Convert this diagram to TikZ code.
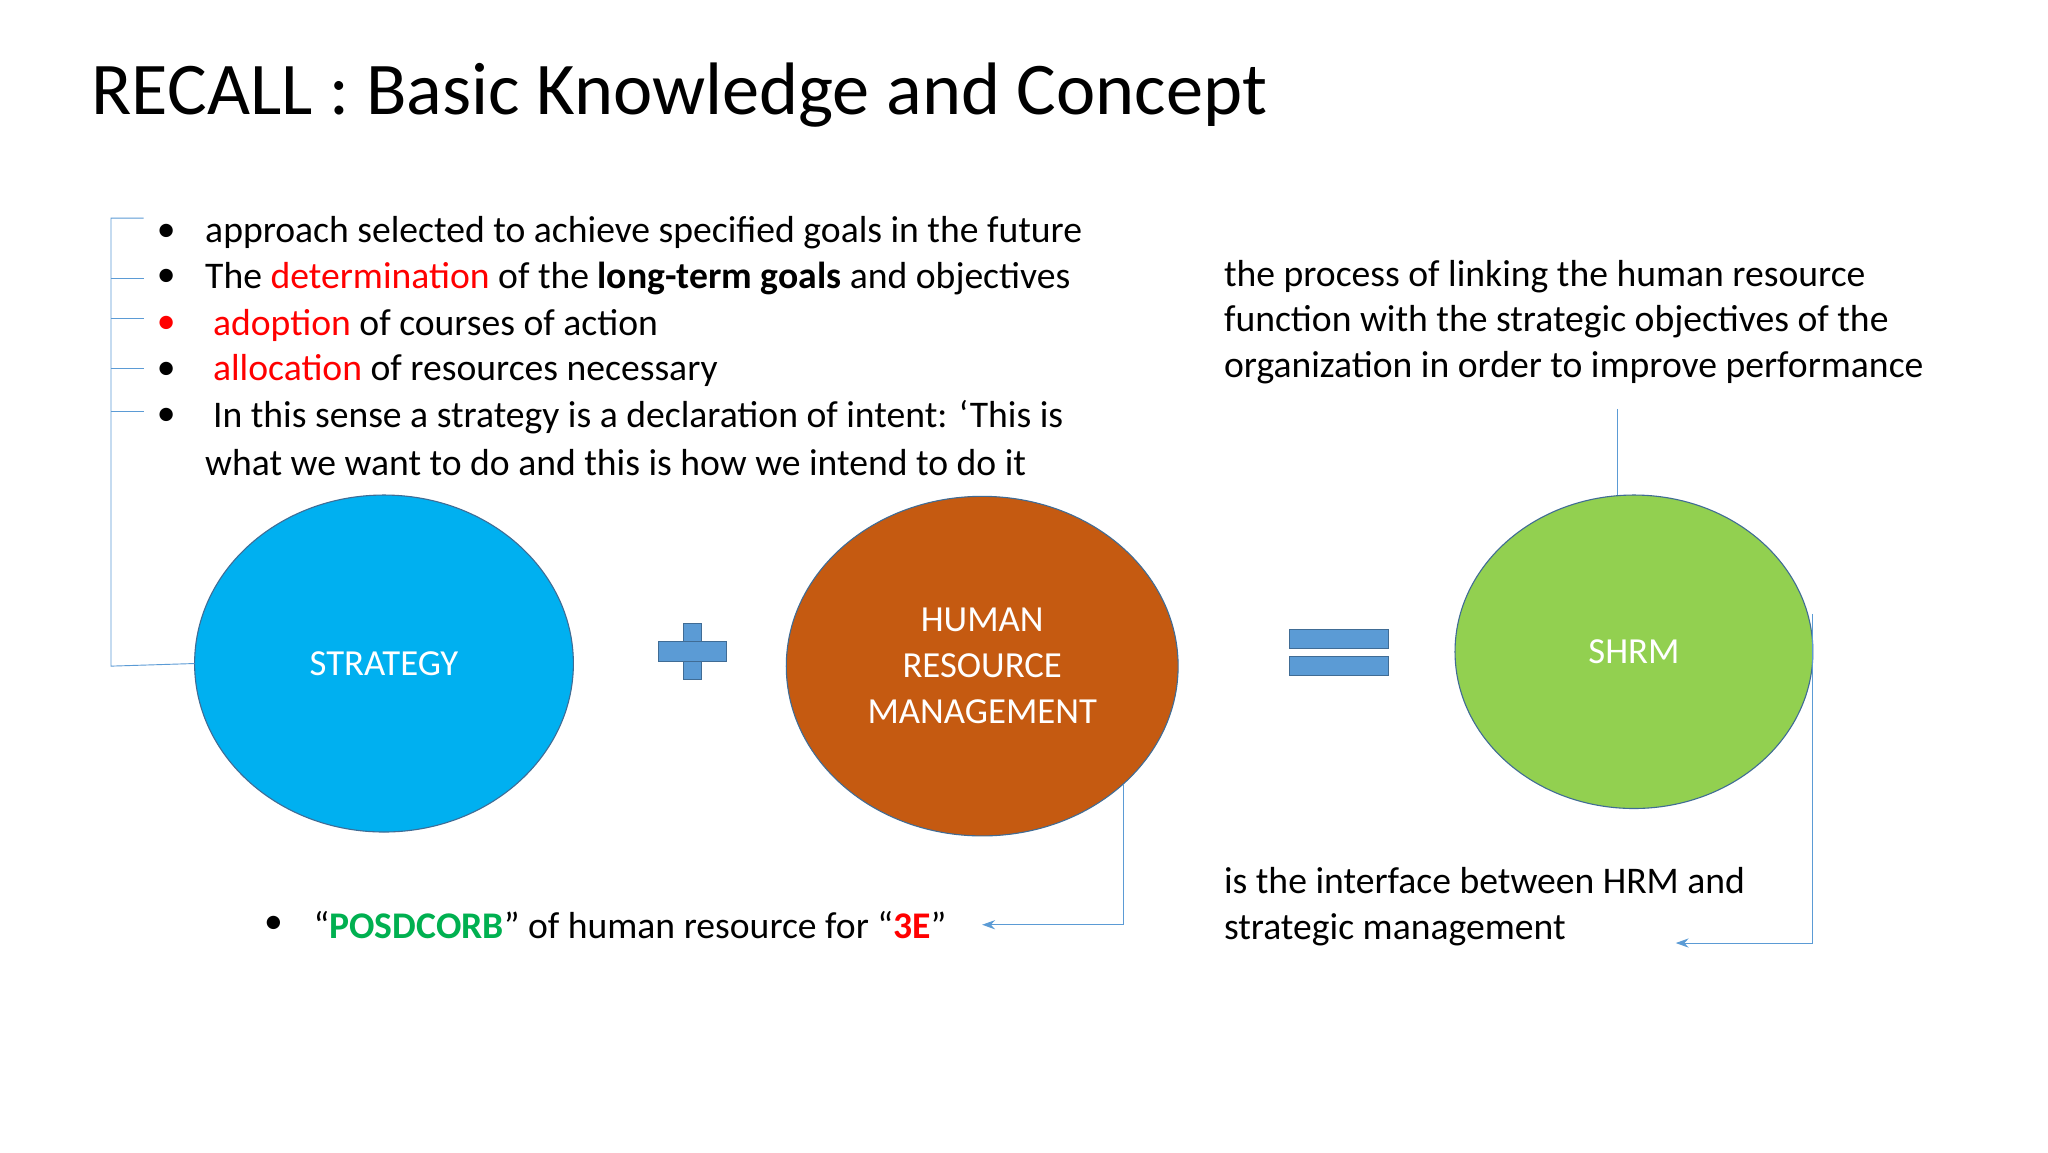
\documentclass[tikz,border=0pt]{standalone}
\usepackage{fontspec}
\setmainfont{Carlito}
\usetikzlibrary{arrows.meta}
\definecolor{lnblue}{HTML}{5B9BD5}
\definecolor{rd}{HTML}{FF0000}
\definecolor{gr}{HTML}{00B050}
\definecolor{cyanf}{HTML}{00B0F0}
\definecolor{orf}{HTML}{C55A11}
\definecolor{grf}{HTML}{92D050}
\begin{document}
\begin{tikzpicture}[x=0.05cm,y=-0.05cm,
  body/.style={anchor=west,inner sep=0,font=\fontsize{41}{49.5}\selectfont},
  conn/.style={draw=lnblue,line width=1pt},
  blob/.style={draw=lnblue!70!black,line width=1.2pt},
  ctext/.style={text=white,font=\fontsize{40}{50}\selectfont,align=center}]
\useasboundingbox (0,0) rectangle (1568,882);
\fill[white] (0,0) rectangle (1568,882);
\node[anchor=base west,inner sep=0,font=\fontsize{81}{90}\selectfont] (title) at (70,88) {RECALL : Basic Knowledge and Concept};
% bullets
\foreach \y/\c in {178/black,213/black,249/rd,284/black,319/black}
  \node[body,text=\c] at (120,\y) {•};
\node[body] (b1) at (157,178) {approach selected to achieve specified goals in the future};
\node[body] (b2) at (157,213) {The \textcolor{rd}{determination} of the \textbf{long-term goals} and objectives};
\node[body] (b3) at (163,249) {\textcolor{rd}{adoption} of courses of action};
\node[body] (b4) at (163,284) {\textcolor{rd}{allocation} of resources necessary};
\node[body] (b5) at (163,319) {In this sense a strategy is a declaration of intent: ‘This is};
\node[body] (b6) at (157,354) {what we want to do and this is how we intend to do it};
% ellipses
\fill[blob,fill=cyanf] (294,508) ellipse [x radius=145,y radius=129];
\node[ctext] (str) at (294,508) {STRATEGY};
\fill[blob,fill=orf] (752,510) ellipse [x radius=150,y radius=130];
\node[ctext] (hrm) at (752,510) {HUMAN\\RESOURCE\\MANAGEMENT};
\fill[blob,fill=grf] (1251,499) ellipse [x radius=137,y radius=120];
\node[ctext] (shrm) at (1251,499) {SHRM};
% plus and equals
\fill[lnblue,draw=lnblue!70!black] (523,477) rectangle (537,520);
\fill[lnblue,draw=lnblue!70!black] (504,491) rectangle (556,506);
\fill[lnblue,draw=lnblue!70!black] (987,482) rectangle (1063,496);
\fill[lnblue,draw=lnblue!70!black] (987,502) rectangle (1063,517);
% bracket
\draw[conn] (110,167) -- (85,167) -- (85,510) -- (149,508);
\foreach \y in {213,244,282,315} \draw[conn] (85,\y) -- (110,\y);
% right text
\node[body,align=left,anchor=north west] (rt) at (937,199) {the process of linking the human resource\\function with the strategic objectives of the\\organization in order to improve performance};
\draw[conn] (1238,313) -- (1238,379);
% POSDCORB
\node[body] at (202,708) {•};
\node[body] (pos) at (240,708) {“\textbf{\textcolor{gr}{POSDCORB}}” of human resource for “\textbf{\textcolor{rd}{3E}}”};
\coordinate (a1) at (752,708);
\draw[conn,-{Stealth[length=14pt,width=10pt]}] (860,600) -- (860,708) -- (a1);
% interface
\node[body,align=left,anchor=north west] (it) at (937,664) {is the interface between HRM and\\strategic management};
\coordinate (a2) at (1283,722);
\draw[conn,-{Stealth[length=14pt,width=10pt]}] (1388,470) -- (1388,722) -- (a2);
\end{tikzpicture}
\end{document}
